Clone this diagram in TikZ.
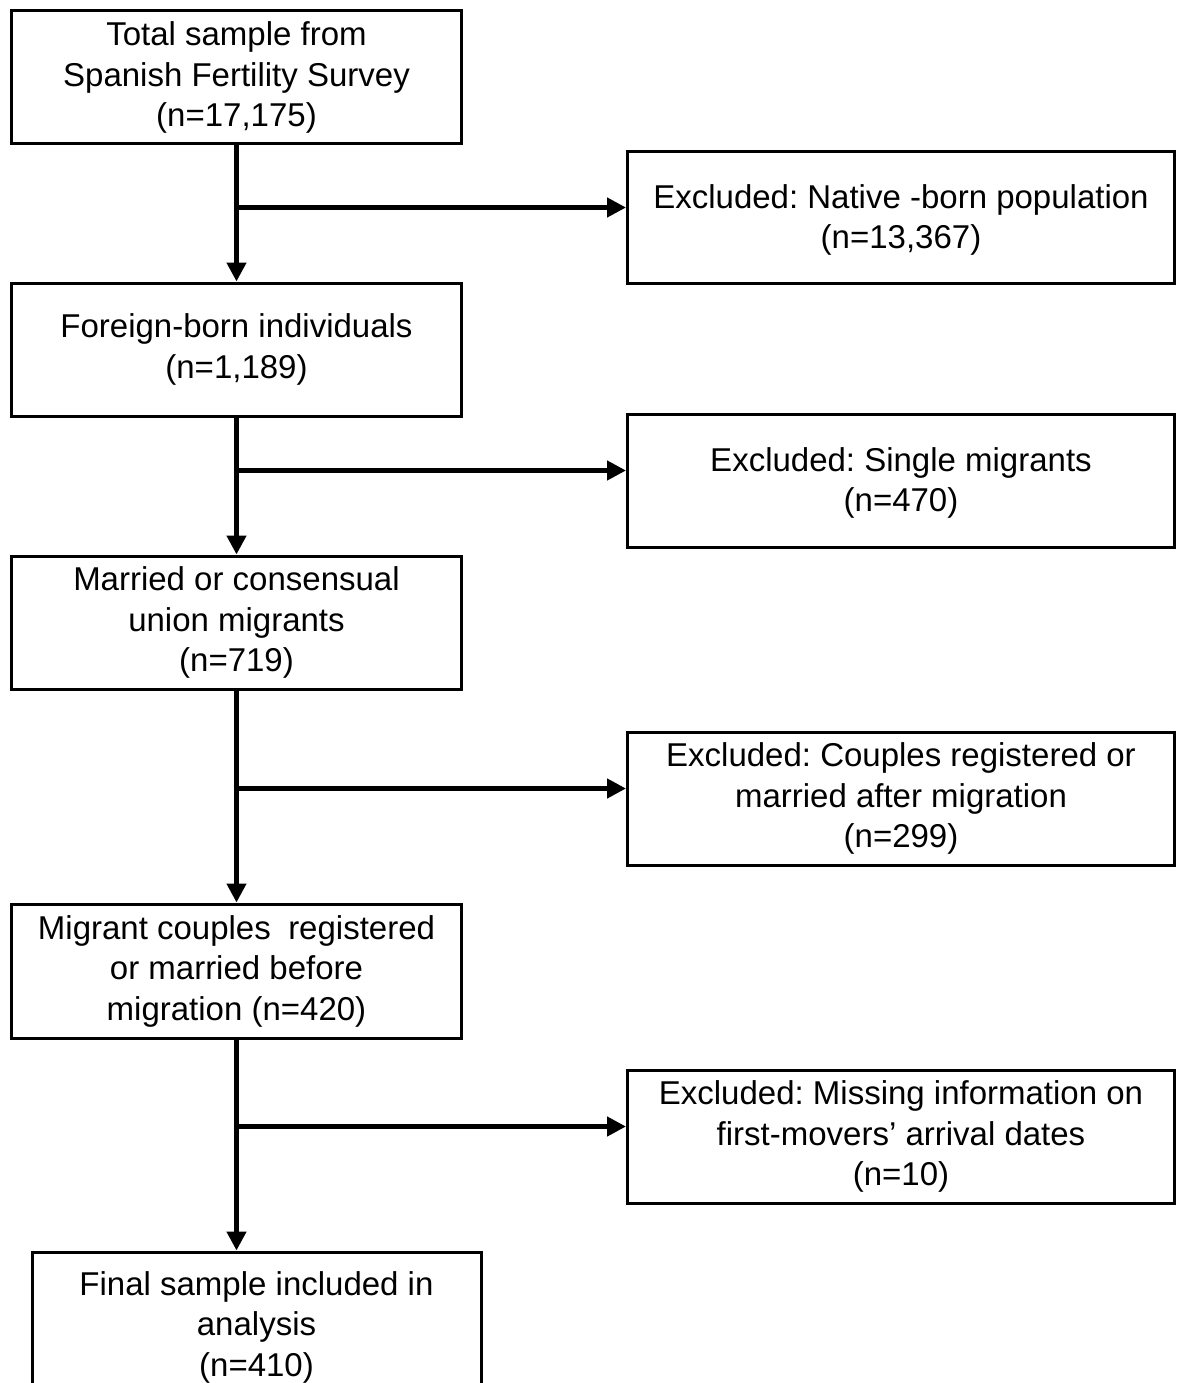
\documentclass[tikz,border=0pt]{standalone}
\usepackage{fontspec}
\setmainfont{Liberation Sans}
\usetikzlibrary{arrows.meta}
\frenchspacing
\tikzset{
  box/.style={draw, line width=3pt, inner sep=0pt, align=center,
    font=\fontsize{33}{40.5}\selectfont, minimum height=133pt},
  leftbox/.style={box, minimum width=450pt},
  rightbox/.style={box, minimum width=547pt},
  arr/.style={line width=4.5pt, -{Triangle[length=19pt,width=19pt]}},
}
\begin{document}
\begin{tikzpicture}[x=1pt,y=-1pt]
\useasboundingbox (0,0) rectangle (1181,1383);
\fill[white] (0,0) rectangle (1181,1383);
% left column
\node[leftbox] (b1) at (236.5,77.5) {Total sample from\\Spanish Fertility Survey\\(n=17,175)};
\node[leftbox] (b2) at (236.5,349.5) {Foreign-born individuals\\(n=1,189)};
\node[leftbox] (b3) at (236.5,622.5) {Married or consensual\\union migrants\\(n=719)};
\node[leftbox, minimum height=134pt] (b4) at (236.5,971) {Migrant couples\hspace{0.25em} registered\\or married before\\migration (n=420)};
\node[box, minimum width=449pt, minimum height=150pt] (b5) at (256.5,1327) {Final sample included in\\analysis\\(n=410)};
% right column
\node[rightbox, minimum height=131pt] (r1) at (901,217.5) {\strut Excluded: Native -born population\\(n=13,367)};
\node[rightbox] (r2) at (901,480.5) {\strut Excluded: Single migrants\\(n=470)};
\node[rightbox] (r3) at (901,798.5) {Excluded: Couples registered or\\married after migration\\(n=299)};
\node[rightbox] (r4) at (901,1136.5) {Excluded: Missing information on\\first-movers’ arrival dates\\(n=10)};
% branch points
\coordinate (e1) at ([yshift=10pt]r1.west);
\coordinate (e2) at ([yshift=10pt]r2.west);
\coordinate (e3) at ([yshift=10pt]r3.west);
\coordinate (e4) at ([yshift=10pt]r4.west);
% connectors
\draw[arr] (b1.south) -- (b2.north);
\draw[arr] (b2.south) -- (b3.north);
\draw[arr] (b3.south) -- (b4.north);
\draw[arr] (b4.south) -- (b4.south |- b5.north);
\draw[arr] (b1.south |- e1) -- (e1);
\draw[arr] (b2.south |- e2) -- (e2);
\draw[arr] (b3.south |- e3) -- (e3);
\draw[arr] (b4.south |- e4) -- (e4);
\end{tikzpicture}
\end{document}
